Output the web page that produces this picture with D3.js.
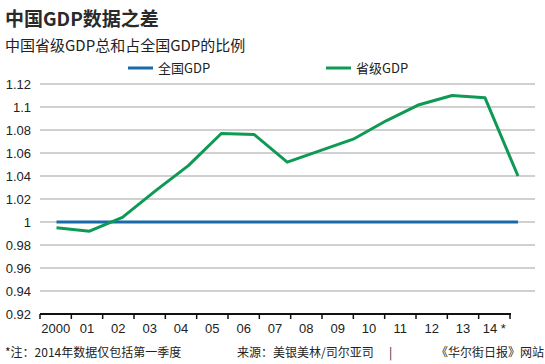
<!DOCTYPE html>
<html><head><meta charset="utf-8">
<script src="https://cdn.jsdelivr.net/npm/d3@7/dist/d3.min.js"></script>
<style>body{margin:0;background:#fff}svg{display:block}</style>
</head><body>
<svg id="c" width="545" height="364"></svg>
<script>
const years = ["2000","01","02","03","04","05","06","07","08","09","10","11","12","13","14"];
const yearLabels = ["2000","01","02","03","04","05","06","07","08","09","10","11","12","13","14 *"];
const national = [1,1,1,1,1,1,1,1,1,1,1,1,1,1,1];
const provincial = [0.995,0.992,1.004,1.027,1.049,1.077,1.076,1.052,1.062,1.072,1.088,1.102,1.110,1.108,1.040];
const yTicks = [0.92,0.94,0.96,0.98,1,1.02,1.04,1.06,1.08,1.1,1.12];
const seriesNames = ["全国GDP","省级GDP"];
const colors = ["#1a6aaa","#0e9a55"];

const svg = d3.select("#c");
const cjk = "'Noto Sans CJK SC', sans-serif";
const lat = "'Liberation Sans', Arial, sans-serif";

svg.append("text").attr("x",5).attr("y",26).attr("font-family",cjk).attr("font-size",19).attr("font-weight",700).attr("fill","#2a2a2a").text("中国GDP数据之差");
svg.append("text").attr("x",5).attr("y",51).attr("font-family",cjk).attr("font-size",15).attr("fill","#222").text("中国省级GDP总和占全国GDP的比例");

const y = d3.scaleLinear().domain([0.92,1.12]).range([314,84]);
const xb = d3.scaleBand().domain(years).range([40,510]);
const xp = d3.scalePoint().domain(years).range([56.5,518]);

// grid
svg.append("g").selectAll("line").data(yTicks.slice(1)).join("line")
  .attr("x1",40).attr("x2",535).attr("y1",d=>y(d)).attr("y2",d=>y(d))
  .attr("stroke","#d0d0d0").attr("stroke-width",2);

// y labels
svg.append("g").selectAll("text").data(yTicks).join("text")
  .attr("x",31).attr("y",d=>y(d)+4.5).attr("text-anchor","end")
  .attr("font-family",lat).attr("font-size",13).attr("fill","#222")
  .text(d=>d3.format("")(d));

// x axis
const xAxis = d3.axisBottom(xb).tickSize(0).tickFormat((d,i)=>yearLabels[i]);
const gx = svg.append("g").attr("transform","translate(0,314)").call(xAxis);
gx.select(".domain").attr("stroke","#111").attr("stroke-width",2).attr("d","M40,0H511");
gx.selectAll("text").attr("font-family",lat).attr("font-size",13).attr("fill","#222").attr("dy","1.25em");
const edges = years.map(d=>xb(d)).concat([xb.range()[1]]);
svg.append("g").selectAll("line").data(edges).join("line")
  .attr("x1",d=>d).attr("x2",d=>d).attr("y1",314).attr("y2",319)
  .attr("stroke","#111").attr("stroke-width",1.5);

// lines
const line = d3.line().x((d,i)=>xp(years[i])).y(d=>y(d));
svg.append("path").datum(national).attr("d",line).attr("fill","none").attr("stroke",colors[0]).attr("stroke-width",3);
svg.append("path").datum(provincial).attr("d",line).attr("fill","none").attr("stroke",colors[1]).attr("stroke-width",3).attr("stroke-linejoin","round");

// legend
const lx = [128,326];
seriesNames.forEach((n,i)=>{
  svg.append("line").attr("x1",lx[i]).attr("x2",lx[i]+25).attr("y1",68).attr("y2",68).attr("stroke",colors[i]).attr("stroke-width",3);
  svg.append("text").attr("x",lx[i]+30).attr("y",73).attr("font-family",cjk).attr("font-size",13).attr("fill","#222").text(n);
});

// footer
svg.append("text").attr("x",5).attr("y",357).attr("font-family",cjk).attr("font-size",12).attr("fill","#222").text("*注：2014年数据仅包括第一季度");
svg.append("text").attr("x",237).attr("y",357).attr("font-family",cjk).attr("font-size",12).attr("fill","#222").text("来源：美银美林/司尔亚司");
svg.append("text").attr("x",389).attr("y",357).attr("font-family",cjk).attr("font-size",12).attr("fill","#222").text("|");
svg.append("text").attr("x",544).attr("y",357).attr("text-anchor","end").attr("font-family",cjk).attr("font-size",12).attr("fill","#222").text("《华尔街日报》网站");
</script>
</body></html>
